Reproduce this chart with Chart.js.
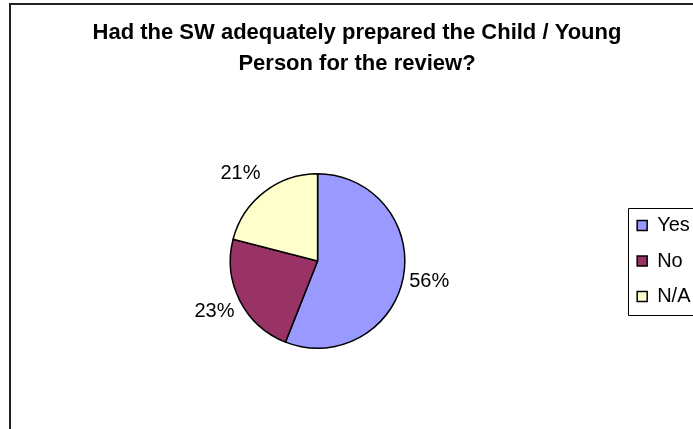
<!DOCTYPE html>
<html>
<head>
<meta charset="utf-8">
<script src="https://cdn.jsdelivr.net/npm/chart.js@4"></script>
<style>
  html, body { margin: 0; padding: 0; background: #fff; overflow: hidden; }
  #wrap { width: 693px; height: 429px; overflow: hidden; }
  canvas { display: block; }
</style>
</head>
<body>
<div id="wrap"><canvas id="chart-pie" width="710" height="429"></canvas></div>
<script>
// data
const labels = ['Yes', 'No', 'N/A'];
const shares = [56, 23, 21];
const sliceColors = ['#9999FF', '#993366', '#FFFFCC'];
const titleLines = ['Had the SW adequately prepared the Child / Young', 'Person for the review?'];

const FONT = '"Liberation Sans", Arial, sans-serif';

// Excel style frame: left and top edge of the chart box (rest is cropped)
const framePlugin = {
  id: 'frame',
  beforeDraw(chart) {
    const c = chart.ctx;
    c.save();
    c.fillStyle = '#fff';
    c.fillRect(0, 0, chart.width, chart.height);
    c.fillStyle = '#222';
    c.fillRect(9, 3, 2, chart.height);
    c.fillRect(9, 3, chart.width, 2);
    c.restore();
  }
};

// border round the legend
const legendBoxPlugin = {
  id: 'legendBox',
  afterDraw(chart) {
    const lg = chart.legend;
    if (!lg || !lg.legendHitBoxes.length) return;
    const first = lg.legendHitBoxes[0];
    const last = lg.legendHitBoxes[lg.legendHitBoxes.length - 1];
    const c = chart.ctx;
    const x = Math.round(first.left - 9) + 0.5;
    const top = Math.round(first.top - 8) + 0.5;
    const bottom = Math.round(last.top + last.height + 8) + 0.5;
    c.save();
    c.strokeStyle = '#000';
    c.lineWidth = 1;
    c.beginPath();
    c.moveTo(chart.width + 5, top);
    c.lineTo(x, top);
    c.lineTo(x, bottom);
    c.lineTo(chart.width + 5, bottom);
    c.stroke();
    c.restore();
  }
};

// percentage labels outside each slice
const outsideLabels = {
  id: 'outsideLabels',
  afterDatasetsDraw(chart) {
    const c = chart.ctx;
    const meta = chart.getDatasetMeta(0);
    const total = shares.reduce((s, v) => s + v, 0);
    c.save();
    c.font = '20px ' + FONT;
    c.fillStyle = '#000';
    c.textAlign = 'center';
    c.textBaseline = 'middle';
    meta.data.forEach((arc, i) => {
      const txt = Math.round(shares[i] / total * 100) + '%';
      const mid = (arc.startAngle + arc.endAngle) / 2;
      const r = arc.outerRadius + 6;
      const ax = arc.x + Math.cos(mid) * r;
      const ay = arc.y + Math.sin(mid) * r;
      const tw = c.measureText(txt).width;
      const cx = ax + Math.sign(Math.cos(mid)) * tw / 2;
      const cy = ay + Math.sin(mid) * 18;
      c.fillText(txt, cx, cy);
    });
    c.restore();
  }
};

new Chart(document.getElementById('chart-pie'), {
  type: 'pie',
  data: {
    labels: labels,
    datasets: [{
      data: shares,
      backgroundColor: sliceColors,
      borderColor: '#000',
      borderWidth: 1.5
    }]
  },
  options: {
    responsive: false,
    devicePixelRatio: 1,
    animation: false,
    layout: { padding: { left: 13.5, right: 9.5, top: 0, bottom: 80 } },
    plugins: {
      title: {
        display: true,
        text: titleLines,
        color: '#000',
        font: { family: FONT, size: 22, weight: 'bold', lineHeight: 1.4 },
        padding: { top: 18, bottom: 93.4 }
      },
      legend: {
        position: 'right',
        fullSize: false,
        labels: {
          boxWidth: 10,
          boxHeight: 10,
          padding: 15.5,
          color: '#000',
          font: { family: FONT, size: 20 }
        }
      },
      tooltip: { enabled: false }
    }
  },
  plugins: [framePlugin, legendBoxPlugin, outsideLabels]
});
</script>
</body>
</html>
